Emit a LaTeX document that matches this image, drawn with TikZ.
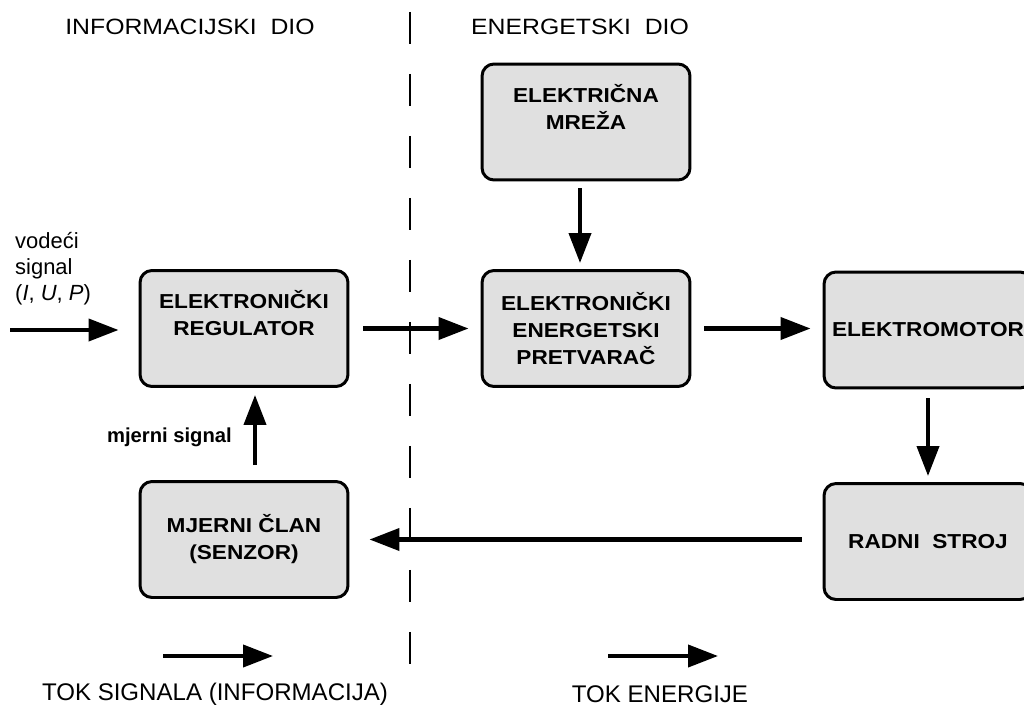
\documentclass[tikz,border=0pt]{standalone}
\usepackage{fontspec}
\setmainfont{Liberation Sans}
\newfontfamily\siroki[FakeStretch=1.12]{Liberation Sans}
\usetikzlibrary{arrows.meta}
\definecolor{blokfill}{RGB}{224,224,224}
\tikzset{
	blok/.style={draw=black, line width=1.7pt, rounded corners=0.24cm, fill=blokfill,
		minimum width=4.16cm, minimum height=2.32cm, align=center,
		font=\siroki\fontsize{11.5}{15.4}\selectfont\bfseries},
	strelica/.style={line width=2.3pt, -{Triangle[length=0.6cm,width=0.44cm]}},
	naslov/.style={font=\siroki\fontsize{12.6}{14}\selectfont},
	legenda/.style={font=\fontsize{13.7}{16}\selectfont},
}
\begin{document}
\begin{tikzpicture}[x=0.02cm, y=-0.02cm]
	\clip (0,0) rectangle (1024,713);
	\fill[white] (0,0) rectangle (1024,713);
	% granica izmedju dijelova
	\draw[line width=1.4pt, dash pattern=on 0.64cm off 0.6cm] (410,12) -- (410,668);
	\node[naslov] (info) at (190,27) {INFORMACIJSKI\ \ DIO};
	\node[naslov] (energ) at (580,27) {ENERGETSKI\ \ DIO};
	% blokovi
	\node[blok] (mreza) at (586,122) {ELEKTRIČNA\\MREŽA\\[2pt]};
	\node[blok] (regulator) at (244,328.5) {ELEKTRONIČKI\\REGULATOR\\[2pt]};
	\node[blok] (pretvarac) at (586,328.5) {ELEKTRONIČKI\\ENERGETSKI\\PRETVARAČ};
	\node[blok] (motor) at (928,330) {ELEKTROMOTOR};
	\node[blok] (stroj) at (928,541.5) {RADNI\ \ STROJ};
	\node[blok] (mjerni) at (244,539.5) {MJERNI ČLAN\\(SENZOR)};
	% ulazni signal
	\node[anchor=north west, align=left, font=\fontsize{12.5}{14.8}\selectfont] (vodeci) at (9,226)
		{vodeći\\signal\\(\textit{I}, \textit{U}, \textit{P})};
	\coordinate (ulaz) at (10,330);
	\node[anchor=east, font=\fontsize{11.5}{14}\selectfont\bfseries] (mjsig) at (238,437) {mjerni signal};
	% tok
	\draw[strelica, shorten >=0.4cm] (ulaz) -- (regulator.west |- ulaz);
	\draw[strelica, shorten <=0.28cm, shorten >=0.24cm] (regulator.east) -- (pretvarac.west);
	\draw[strelica, shorten <=0.14cm, shorten >=0.12cm] ([xshift=-0.12cm]mreza.south) -- ([xshift=-0.12cm]pretvarac.north);
	\draw[strelica, shorten <=0.26cm, shorten >=0.24cm] (pretvarac.east) -- (pretvarac.east -| motor.west);
	\draw[strelica, shorten <=0.18cm, shorten >=0.12cm] (motor.south) -- (stroj.north);
	\draw[strelica, shorten <=0.42cm, shorten >=0.4cm] (stroj.west |- mjerni.east) -- (mjerni.east);
	\draw[strelica, shorten <=0.3cm, shorten >=0.14cm] ([xshift=0.22cm]mjerni.north) -- ([xshift=0.22cm]regulator.south);
	% legenda
	\coordinate (sigA) at (163,656);
	\coordinate (sigB) at (273,656);
	\coordinate (enA) at (608,656);
	\coordinate (enB) at (718,656);
	\draw[strelica] (sigA) -- (sigB);
	\draw[strelica] (enA) -- (enB);
	\node[legenda] (tokSig) at (215,694) {TOK SIGNALA (INFORMACIJA)};
	\node[legenda] (tokEn) at (660,694) {TOK ENERGIJE};
\end{tikzpicture}
\end{document}
